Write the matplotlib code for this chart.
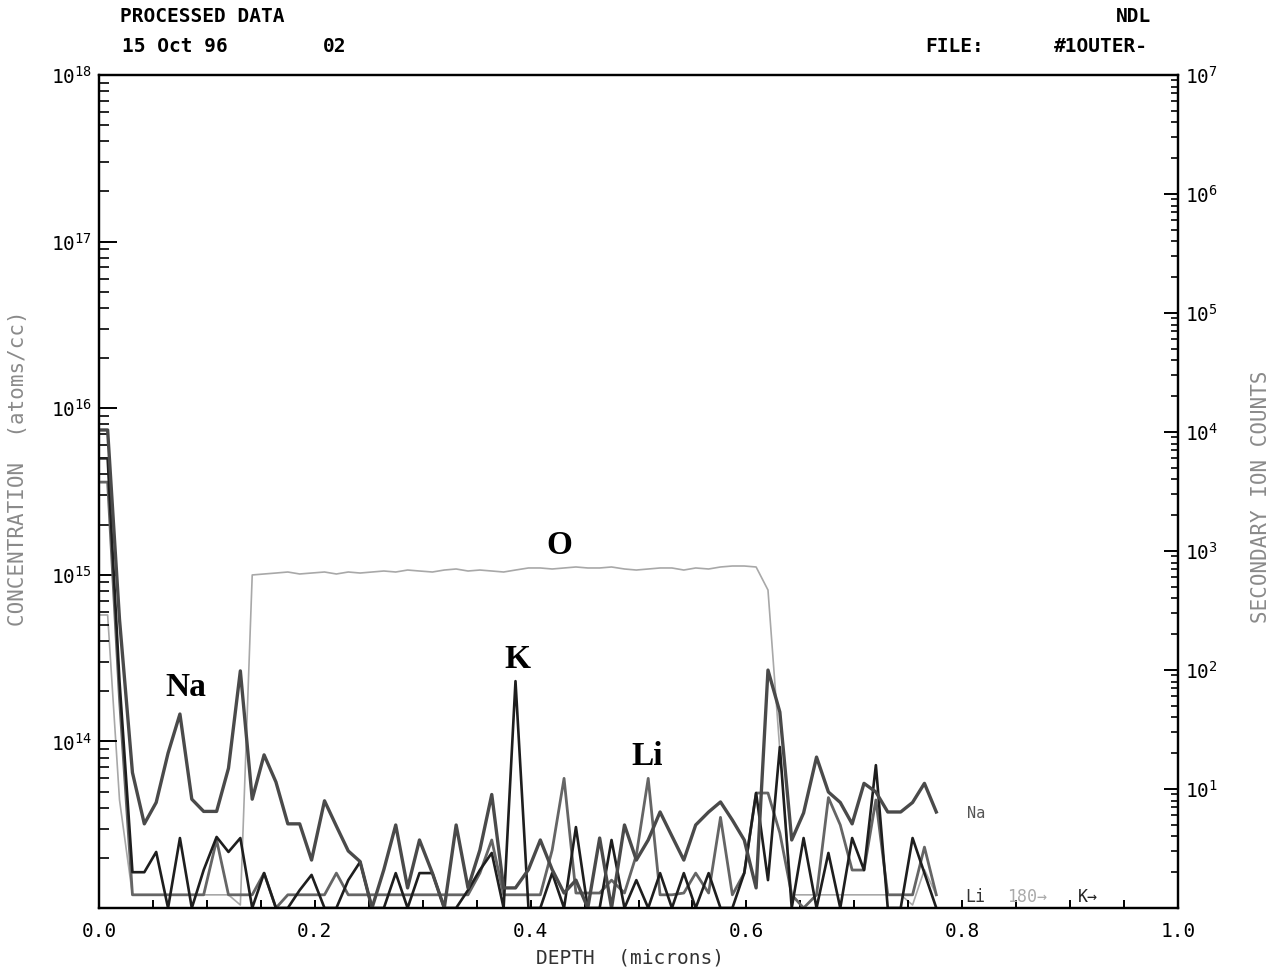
import matplotlib
matplotlib.use("Agg")
import matplotlib.pyplot as plt
from matplotlib.ticker import LogLocator, MultipleLocator, FuncFormatter, NullFormatter
import numpy as np

# depth (microns) of each sputter step
depth = [-0.003, 0.008, 0.019, 0.031, 0.042, 0.053, 0.064, 0.075, 0.086, 0.097,
         0.109, 0.120, 0.131, 0.142, 0.153, 0.164, 0.175, 0.186, 0.197, 0.209,
         0.220, 0.231, 0.242, 0.253, 0.264, 0.275, 0.286, 0.297, 0.309, 0.320,
         0.331, 0.342, 0.353, 0.364, 0.375, 0.386, 0.398, 0.409, 0.420, 0.431,
         0.442, 0.453, 0.464, 0.475, 0.487, 0.498, 0.509, 0.520, 0.531, 0.542,
         0.553, 0.565, 0.576, 0.587, 0.598, 0.609, 0.620, 0.631, 0.642, 0.653,
         0.665, 0.676, 0.687, 0.698, 0.709, 0.720, 0.731, 0.743, 0.754, 0.765,
         0.776]

# concentrations (atoms/cc), left axis
na_conc = [7.4e15, 7.4e15, 5.4e14, 6.5e13, 3.2e13, 4.3e13, 8.5e13, 1.46e14, 4.5e13, 3.8e13,
           3.8e13, 6.9e13, 2.65e14, 4.5e13, 8.3e13, 5.7e13, 3.2e13, 3.2e13, 1.94e13, 4.4e13,
           3.1e13, 2.2e13, 1.9e13, 1.0e13, 1.7e13, 3.15e13, 1.32e13, 2.56e13, 1.62e13, 1.0e13,
           3.15e13, 1.32e13, 2.23e13, 4.8e13, 1.32e13, 1.32e13, 1.7e13, 2.56e13, 1.7e13, 1.23e13,
           1.47e13, 1.0e13, 2.63e13, 1.0e13, 3.15e13, 1.94e13, 2.56e13, 3.77e13, 2.7e13, 1.94e13,
           3.15e13, 3.77e13, 4.33e13, 3.37e13, 2.56e13, 1.32e13, 2.68e14, 1.5e14, 2.56e13, 3.72e13,
           8.05e13, 4.97e13, 4.3e13, 3.2e13, 5.6e13, 4.97e13, 3.77e13, 3.77e13, 4.3e13, 5.6e13,
           3.77e13]

k_conc = [5.0e15, 5.0e15, 2.3e14, 1.64e13, 1.64e13, 2.17e13, 1.0e13, 2.63e13, 1.0e13, 1.69e13,
          2.67e13, 2.17e13, 2.63e13, 1.0e13, 1.62e13, 1.0e13, 1.0e13, 1.28e13, 1.58e13, 1.0e13,
          1.0e13, 1.47e13, 1.89e13, 1.0e13, 1.0e13, 1.62e13, 1.0e13, 1.62e13, 1.62e13, 1.0e13,
          1.0e13, 1.28e13, 1.69e13, 2.14e13, 1.0e13, 2.3e14, 1.0e13, 1.0e13, 1.62e13, 1.0e13,
          3.06e13, 1.0e13, 1.0e13, 2.56e13, 1.0e13, 1.47e13, 1.0e13, 1.62e13, 1.0e13, 1.62e13,
          1.0e13, 1.62e13, 1.0e13, 1.0e13, 1.62e13, 4.9e13, 1.47e13, 9.25e13, 1.0e13, 2.63e13,
          1.0e13, 2.14e13, 1.0e13, 2.63e13, 1.69e13, 7.2e13, 1.0e13, 1.0e13, 2.63e13, 1.62e13,
          1.0e13]

li_conc = [3.6e15, 3.6e15, 1.8e14, 1.2e13, 1.2e13, 1.2e13, 1.2e13, 1.2e13, 1.2e13, 1.2e13,
           2.56e13, 1.2e13, 1.2e13, 1.2e13, 1.62e13, 1.0e13, 1.2e13, 1.2e13, 1.2e13, 1.2e13,
           1.62e13, 1.2e13, 1.2e13, 1.2e13, 1.2e13, 1.2e13, 1.2e13, 1.2e13, 1.2e13, 1.2e13,
           1.2e13, 1.2e13, 1.62e13, 2.56e13, 1.2e13, 1.2e13, 1.2e13, 1.2e13, 2.23e13, 6.0e13,
           1.23e13, 1.23e13, 1.23e13, 1.47e13, 1.23e13, 2.08e13, 6.0e13, 1.2e13, 1.2e13, 1.23e13,
           1.62e13, 1.23e13, 3.5e13, 1.2e13, 1.62e13, 4.9e13, 4.9e13, 2.82e13, 1.2e13, 1.0e13,
           1.2e13, 4.6e13, 3.15e13, 1.69e13, 1.69e13, 4.45e13, 1.2e13, 1.2e13, 1.2e13, 2.32e13,
           1.2e13]

# 18O secondary ion counts, right axis
o_counts = [290, 290, 8.1, 1.29, 1.29, 1.29, 1.29, 1.29, 1.29, 1.29,
            1.29, 1.29, 1.06, 629, 641, 653, 666, 641, 653, 666,
            641, 666, 653, 666, 679, 666, 692, 679, 666, 692,
            706, 679, 692, 679, 666, 692, 720, 720, 706, 720,
            734, 720, 720, 734, 706, 692, 706, 720, 720, 692,
            720, 706, 734, 748, 748, 734, 470, 21, 1.29, 1.29,
            1.29, 1.29, 1.29, 1.29, 1.29, 1.29, 1.29, 1.29, 1.06, 2.1,
            1.29]

W, H = 1275, 971
plt.rcParams['font.family'] = ['DejaVu Sans Mono', 'DejaVu Sans']

fig = plt.figure(figsize=(W / 100, H / 100), dpi=100)
ax = fig.add_axes([99 / W, 1 - 908 / H, (1178 - 99) / W, (908 - 75) / H])
ax2 = ax.twinx()

# O counts underneath the concentration curves
ax2.plot(depth, o_counts, color='#a8a8a8', lw=1.2)
ax.plot(depth, li_conc, color='#656565', lw=2.0)
ax.plot(depth, k_conc, color='#1e1e1e', lw=1.9)
ax.plot(depth, na_conc, color='#4a4a4a', lw=2.4)
ax.set_zorder(ax2.get_zorder() + 1)
ax.patch.set_visible(False)

ax.set_xlim(0, 1.0)
ax.set_yscale('log')
ax.set_ylim(1e13, 1e18)
ax2.set_yscale('log')
ax2.set_ylim(1, 1e7)

def make_fmt(lowest):
    def fmt(v, pos):
        e = int(round(np.log10(v)))
        if e <= lowest:
            return ''
        return r'$\mathregular{10^{%d}}$' % e
    return fmt

for a, low in ((ax, 13), (ax2, 0)):
    a.yaxis.set_major_locator(LogLocator(base=10, numticks=20))
    a.yaxis.set_minor_locator(LogLocator(base=10, subs=np.arange(2, 10), numticks=20))
    a.yaxis.set_major_formatter(FuncFormatter(make_fmt(low)))
    a.yaxis.set_minor_formatter(NullFormatter())
    for s in a.spines.values():
        s.set_linewidth(1.6)

ax.tick_params(axis='y', which='major', direction='in', length=13, width=1.4, labelsize=14, pad=5)
ax.tick_params(axis='y', which='minor', direction='in', length=7, width=1.2)
ax2.tick_params(axis='y', which='major', direction='in', length=10, width=1.4, labelsize=14, pad=5)
ax2.tick_params(axis='y', which='minor', direction='in', length=5, width=1.2)

ax.xaxis.set_major_locator(MultipleLocator(0.2))
ax.xaxis.set_minor_locator(MultipleLocator(0.05))
ax.xaxis.set_major_formatter(FuncFormatter(lambda v, p: '%.1f' % v))
ax.tick_params(axis='x', which='both', direction='in', length=6, width=1.4, labelsize=14, pad=10)

# header
def ftext(x, y, s, **kw):
    fig.text(x / W, 1 - y / H, s, va='center', **kw)

hdr = dict(fontsize=14, fontweight='bold')
ftext(120, 17, 'PROCESSED DATA', **hdr)
ftext(122, 46, '15 Oct 96', **hdr)
ftext(346, 46, '02', ha='right', **hdr)
ftext(1151, 17, 'NDL', ha='right', **hdr)
ftext(925, 46, 'FILE:', **hdr)
ftext(1148, 46, '#1OUTER-', ha='right', **hdr)

# axis titles
ftext(18, 468, 'CONCENTRATION  (atoms/cc)', fontsize=15, color='#8a8a8a',
      rotation=90, ha='center')
ftext(1261, 497, 'SECONDARY ION COUNTS', fontsize=15, color='#8a8a8a',
      rotation=90, ha='center')
ftext(630, 958, 'DEPTH  (microns)', fontsize=14, color='#333333', ha='center')

# element annotations
serif = dict(family='Liberation Serif', fontweight='bold', fontsize=24,
             ha='center', va='center')
ax.text(0.080, 2.1e14, 'Na', **serif)
ax.text(0.388, 3.1e14, 'K', **serif)
ax.text(0.508, 8.1e13, 'Li', **serif)
ax.text(0.427, 1.5e15, 'O', **serif)

# end-of-profile labels
ax.text(0.804, 3.7e13, 'Na', fontsize=11, color='#555555', va='center')
ax.text(0.803, 1.16e13, 'Li', fontsize=12, color='#333333', va='center')
ax.text(0.842, 1.16e13, '180\u2192', fontsize=12, color='#aaaaaa', va='center')
ax.text(0.907, 1.16e13, 'K\u2192', fontsize=12, color='#222222', va='center')

fig.savefig('out.png', dpi=100)
